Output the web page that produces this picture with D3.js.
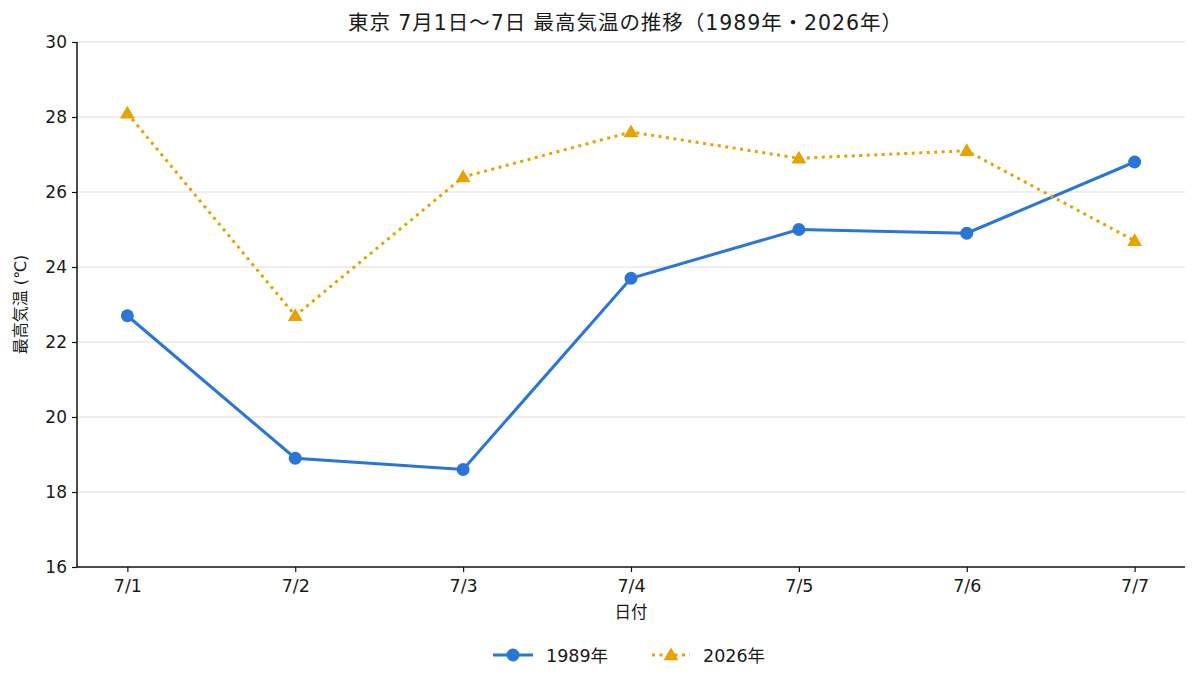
<!DOCTYPE html>
<html><head><meta charset="utf-8">
<script src="https://cdn.jsdelivr.net/npm/d3@7"></script>
<style>
body{margin:0;background:#fff;}
text{font-family:"DejaVu Sans","Noto Sans CJK JP",sans-serif;fill:#1a1a1a;}
</style></head>
<body><svg id="c" width="1200" height="686"></svg>
<script>
const categories = ["7/1","7/2","7/3","7/4","7/5","7/6","7/7"];
const values1989 = [22.7, 18.9, 18.6, 23.7, 25.0, 24.9, 26.8];
const values2026 = [28.1, 22.7, 26.4, 27.6, 26.9, 27.1, 24.7];
const yTicks = [16, 18, 20, 22, 24, 26, 28, 30];
const seriesNames = ["1989年", "2026年"];
const title = "東京 7月1日〜7日 最高気温の推移（1989年・2026年）";

const svg = d3.select("#c");
const m = {l:77, r:1185, t:42, b:567};
const x = d3.scalePoint().domain(categories).range([m.l, m.r]).padding(0.3);
const y = d3.scaleLinear().domain([16, 30]).range([m.b, m.t]);
const blue = "#2a76d6", orange = "#e9a100";
const FF = "'DejaVu Sans','Noto Sans CJK JP', sans-serif";

// grid
svg.append("g").selectAll("line").data(yTicks.slice(1)).join("line")
  .attr("x1", m.l).attr("x2", m.r).attr("y1", d=>y(d)).attr("y2", d=>y(d))
  .attr("stroke", "#dcdcdc").attr("stroke-width", 1);

// axes
const ya = svg.append("g").attr("transform", `translate(${m.l},0)`)
  .call(d3.axisLeft(y).tickValues(yTicks).tickSize(5).tickPadding(5));
const xa = svg.append("g").attr("transform", `translate(0,${m.b})`)
  .call(d3.axisBottom(x).tickSize(5).tickPadding(8));
xa.select(".domain").attr("d", `M${m.l},0H${m.r}`);
ya.select(".domain").attr("d", `M0,${m.b}V${m.t}`);
ya.attr("font-family", FF).attr("font-size", 17);
xa.attr("font-family", FF).attr("font-size", 17.5);
[ya, xa].forEach(a => {
  a.selectAll(".domain").attr("stroke", "#111").attr("stroke-width", 1.5);
  a.selectAll(".tick line").attr("stroke", "#111").attr("stroke-width", 1.2);
  a.selectAll(".tick text").style("fill", "#1a1a1a");
});

// lines
const line = d3.line().x((d,i)=>x(categories[i])).y(d=>y(d));
svg.append("path").datum(values1989).attr("d", line).attr("fill","none")
  .attr("stroke", blue).attr("stroke-width", 3);
svg.append("path").datum(values2026).attr("d", line).attr("fill","none")
  .attr("stroke", orange).attr("stroke-width", 3).attr("stroke-dasharray","3,4.5");

svg.append("g").selectAll("circle").data(values1989).join("circle")
  .attr("cx",(d,i)=>x(categories[i])).attr("cy", d=>y(d)).attr("r", 6.5).attr("fill", blue);
const tri = d3.symbol().type(d3.symbolTriangle).size(95);
svg.append("g").selectAll("path").data(values2026).join("path")
  .attr("d", tri).attr("transform",(d,i)=>`translate(${x(categories[i])},${y(d)+1})`).attr("fill", orange);

// title & labels
svg.append("text").attr("x", 625).attr("y", 30).attr("text-anchor","middle")
  .attr("font-size", 20.5).attr("textLength", 554).attr("lengthAdjust","spacing").text(title);
svg.append("text").attr("x", (m.l + m.r)/2).attr("y", 618).attr("text-anchor","middle")
  .attr("font-size", 16.5).text("日付");
svg.append("text").attr("transform", `translate(26,${(m.t+m.b)/2}) rotate(-90)`)
  .attr("text-anchor","middle").attr("font-size", 16).text("最高気温 (℃)");

// legend
const lg = svg.append("g").attr("transform","translate(0,655)");
lg.append("line").attr("x1",493).attr("x2",533).attr("stroke",blue).attr("stroke-width",3);
lg.append("circle").attr("cx",513).attr("r",6.5).attr("fill",blue);
lg.append("text").attr("x",546).attr("y",7).attr("font-size",17.5).text(seriesNames[0]);
lg.append("line").attr("x1",652).attr("x2",690).attr("stroke",orange).attr("stroke-width",3).attr("stroke-dasharray","3,4.5");
lg.append("path").attr("d",tri).attr("transform","translate(671,1)").attr("fill",orange);
lg.append("text").attr("x",703).attr("y",7).attr("font-size",17.5).text(seriesNames[1]);
</script></body></html>
